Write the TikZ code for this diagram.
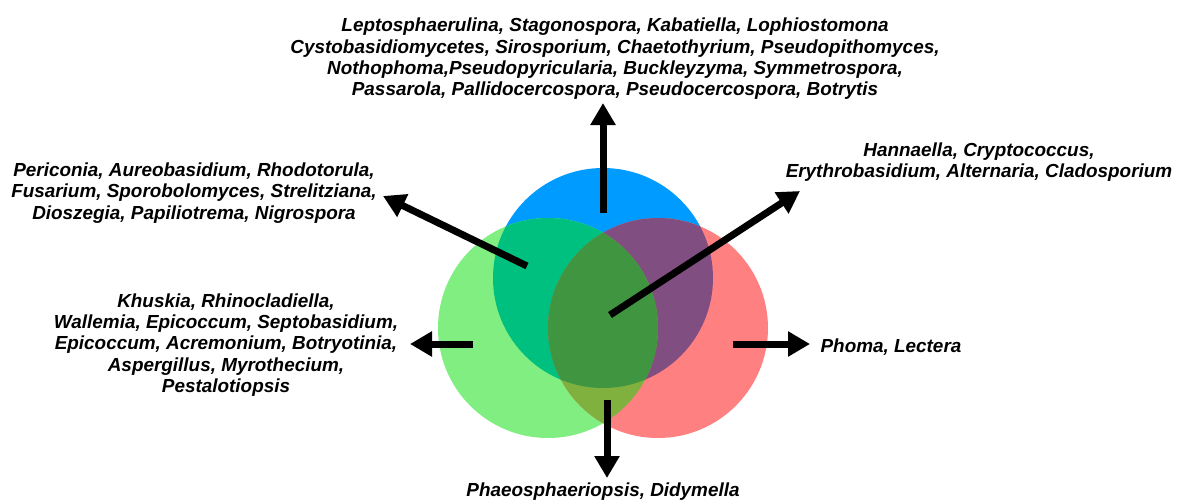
\documentclass[tikz,border=0pt]{standalone}
\usepackage{fontspec}
\setmainfont{Liberation Sans}
\usetikzlibrary{arrows.meta}
\definecolor{cblue}{RGB}{0,155,255}
\definecolor{cgreen}{RGB}{128,238,128}
\definecolor{cred}{RGB}{255,128,128}
\definecolor{cbg}{RGB}{0,192,128}
\definecolor{cbr}{RGB}{128,78,128}
\definecolor{cgr}{RGB}{128,176,62}
\definecolor{call}{RGB}{64,150,64}
\begin{document}
\begin{tikzpicture}[x=1pt,y=-1pt,
  txt/.style={font=\fontsize{18.9}{21.4}\selectfont\bfseries\itshape, align=center, inner sep=0pt},
  arr/.style={line width=7pt, -{Triangle[width=24pt,length=22pt]}}]
\useasboundingbox[fill=white] (0,0) rectangle (1182,501);
\def\B{(603,278) circle[radius=110pt]}
\def\G{(548,328) circle[radius=110pt]}
\def\R{(658,328) circle[radius=110pt]}
\fill[cblue] \B;
\fill[cgreen] \G;
\fill[cred] \R;
\begin{scope}\clip \B; \fill[cbg] \G; \end{scope}
\begin{scope}\clip \B; \fill[cbr] \R; \end{scope}
\begin{scope}\clip \G; \fill[cgr] \R; \end{scope}
\begin{scope}\clip \B; \clip \G; \fill[call] \R; \end{scope}
% text nodes
\node[txt] (top) at (615,59) {Leptosphaerulina, Stagonospora, Kabatiella, Lophiostomona\\
Cystobasidiomycetes, Sirosporium, Chaetothyrium, Pseudopithomyces,\\
Nothophoma,Pseudopyricularia, Buckleyzyma, Symmetrospora,\\
Passarola, Pallidocercospora, Pseudocercospora, Botrytis};
\node[txt] (ul) at (194,193) {Periconia, Aureobasidium, Rhodotorula,\\
Fusarium, Sporobolomyces, Strelitziana,\\
Dioszegia, Papiliotrema, Nigrospora};
\node[txt] (ur) at (979,162) {Hannaella, Cryptococcus,\\
Erythrobasidium, Alternaria, Cladosporium};
\node[txt] (lt) at (226,345) {Khuskia, Rhinocladiella,\\
Wallemia, Epicoccum, Septobasidium,\\
Epicoccum, Acremonium, Botryotinia,\\
Aspergillus, Myrothecium,\\
Pestalotiopsis};
\node[txt] (rt) at (891,347) {Phoma, Lectera};
\node[txt] (bt) at (603,492) {Phaeosphaeriopsis, Didymella};
% arrow coordinates
\coordinate (sUp) at (603,213); \coordinate (eUp) at (603,103);
\coordinate (sUL) at (527,266); \coordinate (eUL) at (383,196);
\coordinate (sUR) at (610,315); \coordinate (eUR) at (800,191);
\coordinate (sL) at (473,344); \coordinate (eL) at (410,344);
\coordinate (sR) at (733,344); \coordinate (eR) at (810,344);
\coordinate (sD) at (607,400); \coordinate (eD) at (607,478);
\draw[arr] (sUp) -- (eUp);
\draw[arr] (sUL) -- (eUL);
\draw[arr] (sUR) -- (eUR);
\draw[arr] (sL) -- (eL);
\draw[arr] (sR) -- (eR);
\draw[arr] (sD) -- (eD);
\end{tikzpicture}
\end{document}
